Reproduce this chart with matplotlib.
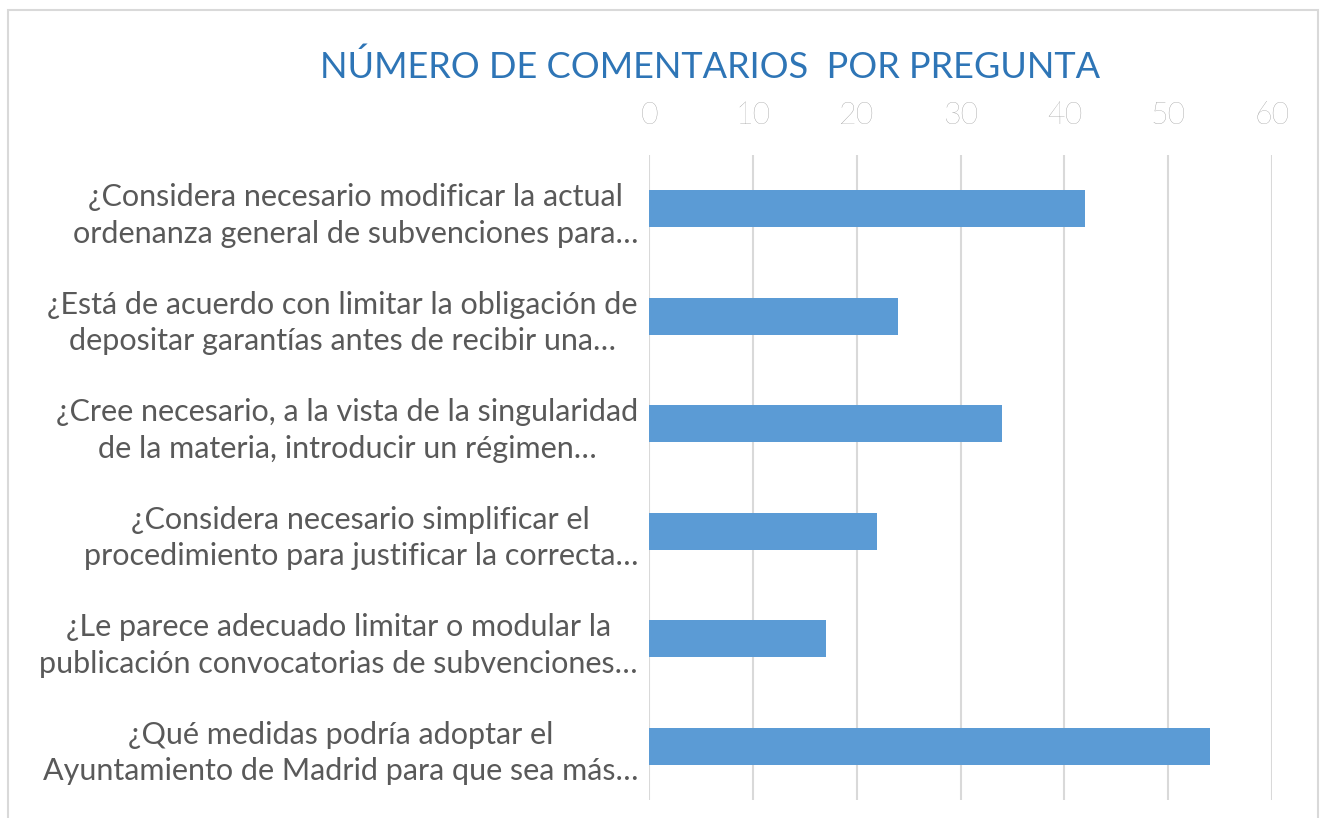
import matplotlib
matplotlib.use("Agg")
import matplotlib.pyplot as plt
from matplotlib.patches import Rectangle

# Datos del gráfico
preguntas = [
    "¿Considera necesario modificar la actual\nordenanza general de subvenciones para…",
    "¿Está de acuerdo con limitar la obligación de\ndepositar garantías antes de recibir una…",
    "¿Cree necesario, a la vista de la singularidad\nde la materia, introducir un régimen…",
    "¿Considera necesario simplificar el\nprocedimiento para justificar la correcta…",
    "¿Le parece adecuado limitar o modular la\npublicación convocatorias de subvenciones…",
    "¿Qué medidas podría adoptar el\nAyuntamiento de Madrid para que sea más…",
]
comentarios = [42, 24, 34, 22, 17, 54]
ticks = [0, 10, 20, 30, 40, 50, 60]

plt.rcParams['font.family'] = ['Lato', 'DejaVu Sans']

fig = plt.figure(figsize=(13.23, 8.18), dpi=100)
ax = fig.add_axes([0.4906, 0.022, 0.4709, 0.7885])

y = list(range(len(preguntas)))
ax.barh(y, comentarios, height=0.34, color='#5b9bd5', zorder=3)

ax.set_xlim(0, 60)
ax.set_ylim(len(preguntas) - 0.5, -0.5)
ax.set_xticks(ticks)
ax.set_xticklabels([str(t) for t in ticks], fontsize=22, color='#8c8c8c', fontweight='light')
ax.xaxis.tick_top()
ax.tick_params(axis='x', length=0, pad=18)
ax.set_yticks(y)
ax.set_yticklabels(preguntas, fontsize=22, color='#595959', multialignment='center',
                   linespacing=1.38, fontweight='normal')
ax.tick_params(axis='y', length=0, pad=8)

ax.grid(axis='x', color='#d9d9d9', linewidth=1.5, zorder=0)
for s in ax.spines.values():
    s.set_visible(False)

fig.text(0.537, 0.918, "NÚMERO DE COMENTARIOS  POR PREGUNTA", ha='center', va='center',
         fontsize=26, color='#2e75b6', fontweight='normal')

# Marco del gráfico
fig.patches.append(Rectangle((0.006, -0.01), 0.99, 0.998, transform=fig.transFigure,
                             fill=False, edgecolor='#d9d9d9', linewidth=1.5))

fig.savefig('out.png', dpi=100)
